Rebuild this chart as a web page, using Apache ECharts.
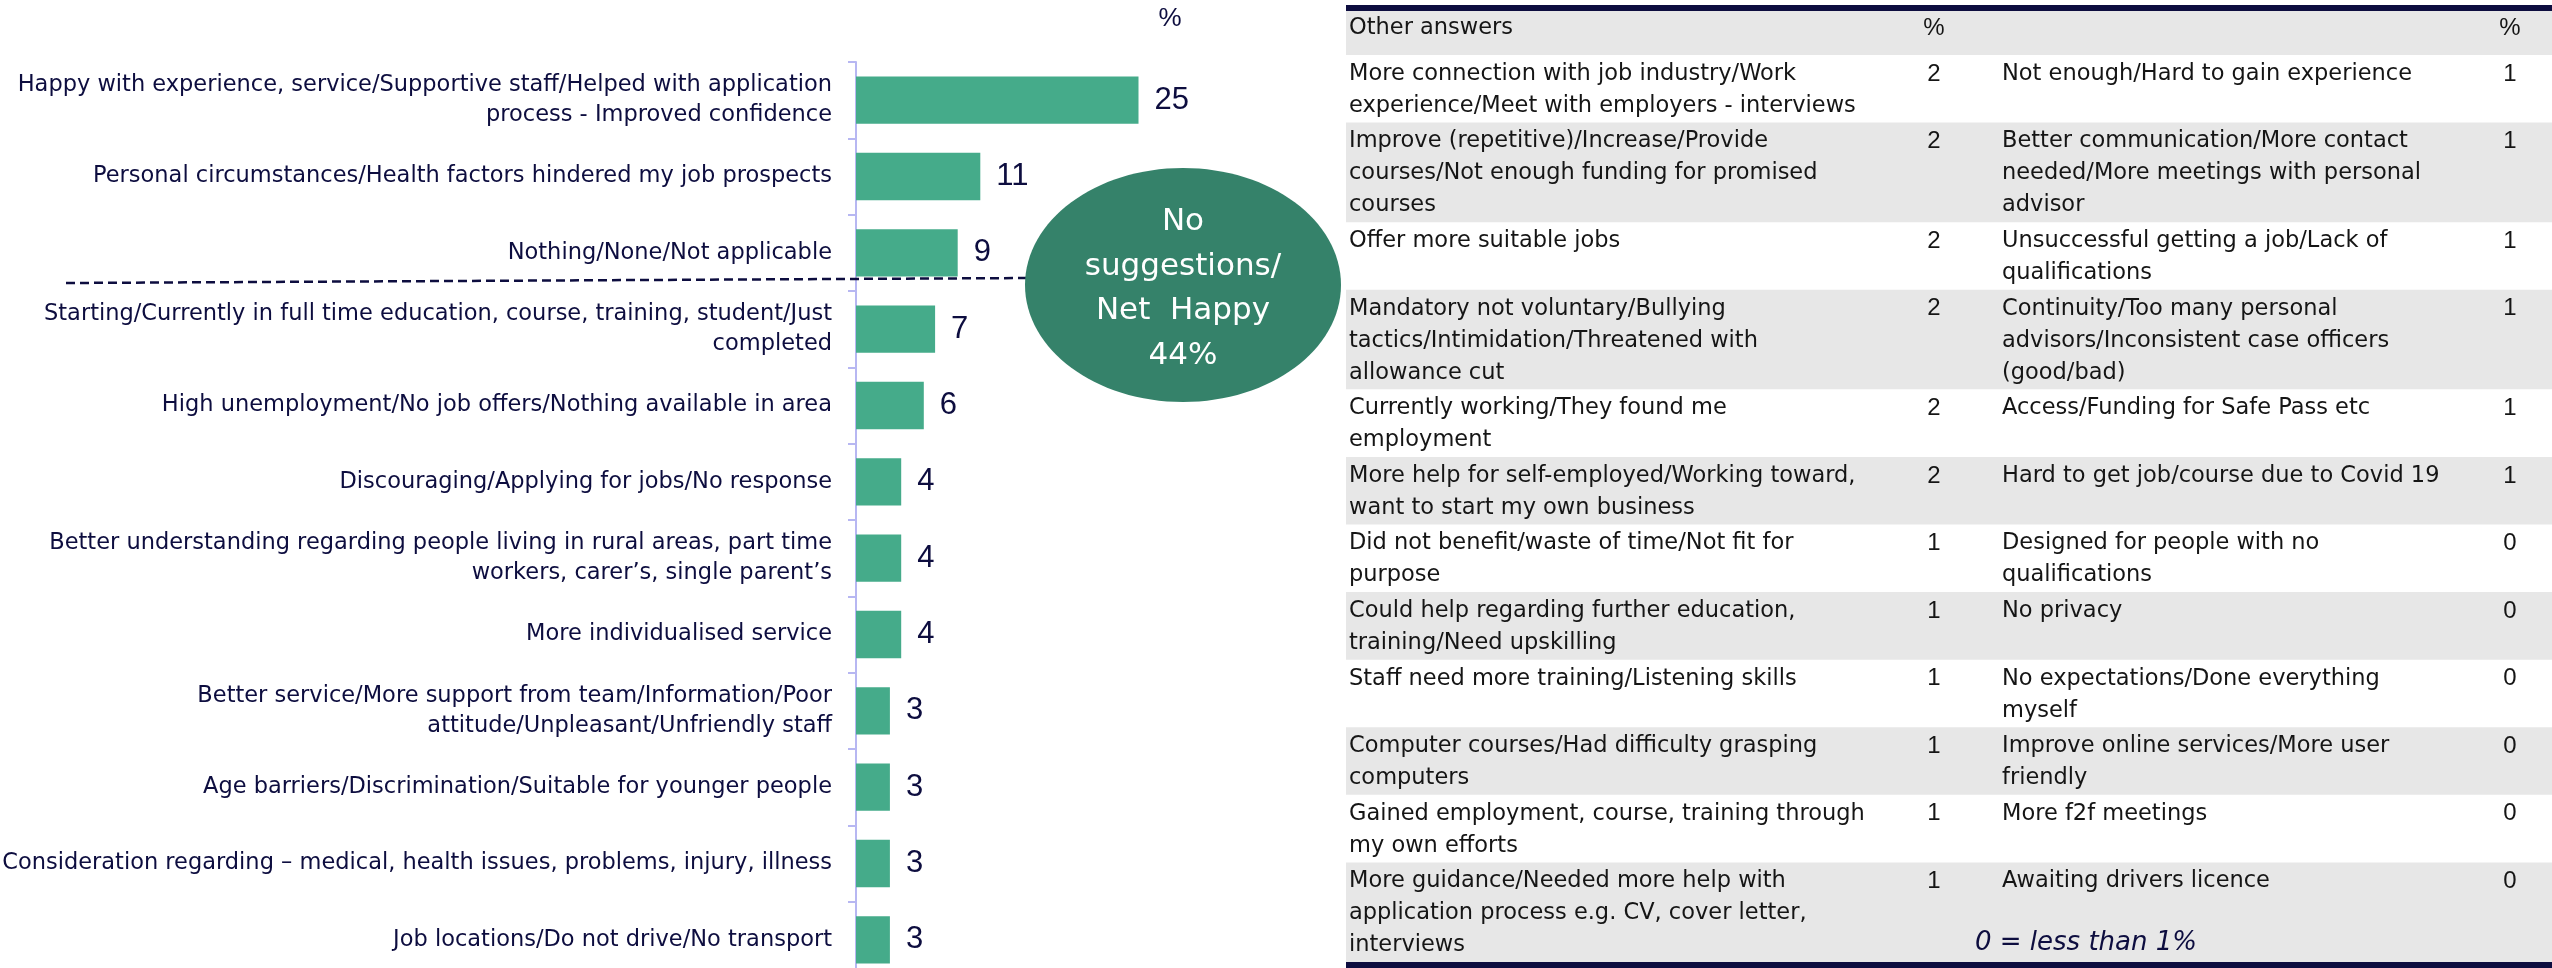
<!DOCTYPE html>
<html>
<head>
<meta charset="utf-8">
<script src="https://cdn.jsdelivr.net/npm/echarts@6/dist/echarts.min.js"></script>
<style>
  html, body { margin: 0; padding: 0; background: #ffffff; }
  #chart { width: 2552px; height: 968px; }
</style>
</head>
<body>
<div id="chart"></div>
<script>
// ---------- DATA ----------
const categories = [
  "Happy with experience, service/Supportive staff/Helped with application\nprocess - Improved confidence",
  "Personal circumstances/Health factors hindered my job prospects",
  "Nothing/None/Not applicable",
  "Starting/Currently in full time education, course, training, student/Just\ncompleted",
  "High unemployment/No job offers/Nothing available in area",
  "Discouraging/Applying for jobs/No response",
  "Better understanding regarding people living in rural areas, part time\nworkers, carer\u2019s, single parent\u2019s",
  "More individualised service",
  "Better service/More support from team/Information/Poor\nattitude/Unpleasant/Unfriendly staff",
  "Age barriers/Discrimination/Suitable for younger people",
  "Consideration regarding \u2013 medical, health issues, problems, injury, illness",
  "Job locations/Do not drive/No transport"
];
const values = [25, 11, 9, 7, 6, 4, 4, 4, 3, 3, 3, 3];

const netHappyLabel = "No\nsuggestions/\nNet  Happy";
const netHappyValue = 44;

const tableHeader = ["Other answers", "%", "", "%"];
const otherAnswersLeft = [
  "More connection with job industry/Work\nexperience/Meet with employers - interviews",
  "Improve (repetitive)/Increase/Provide\ncourses/Not enough funding for promised\ncourses",
  "Offer more suitable jobs",
  "Mandatory not voluntary/Bullying\ntactics/Intimidation/Threatened with\nallowance cut",
  "Currently working/They found me\nemployment",
  "More help for self-employed/Working toward,\nwant to start my own business",
  "Did not benefit/waste of time/Not fit for\npurpose",
  "Could help regarding further education,\ntraining/Need upskilling",
  "Staff need more training/Listening skills",
  "Computer courses/Had difficulty grasping\ncomputers",
  "Gained employment, course, training through\nmy own efforts",
  "More guidance/Needed more help with\napplication process e.g. CV, cover letter,\ninterviews"
];
const otherValuesLeft = [2, 2, 2, 2, 2, 2, 1, 1, 1, 1, 1, 1];
const otherAnswersRight = [
  "Not enough/Hard to gain experience",
  "Better communication/More contact\nneeded/More meetings with personal\nadvisor",
  "Unsuccessful getting a job/Lack of\nqualifications",
  "Continuity/Too many personal\nadvisors/Inconsistent case officers\n(good/bad)",
  "Access/Funding for Safe Pass etc",
  "Hard to get job/course due to Covid 19",
  "Designed for people with no\nqualifications",
  "No privacy",
  "No expectations/Done everything\nmyself",
  "Improve online services/More user\nfriendly",
  "More f2f meetings",
  "Awaiting drivers licence"
];
const otherValuesRight = [1, 1, 1, 1, 1, 1, 0, 0, 0, 0, 0, 0];
const footnote = "0 = less than 1%";

// ---------- STYLE / LAYOUT ----------
const FONT = 'DejaVu Sans';
const NUMFONT = 'Liberation Sans';
const NAVY = '#0d0d3f';
const BAR = '#45ab8a';
const ELLIPSE = '#35826a';
const AXIS = '#b7b7f2';
const GRAY = '#e7e7e7';
const TEXT_DARK = '#151515';

const T = {
  left: 1346, right: 2552, top: 5, border: 6,
  headerH: 44, bottomLine: 962,
  col1: 1349, col2: 1934, col3: 2002, col4: 2510,
  lineH: 32, fontSize: 22.5, numSize: 24
};

function nLines(s) { return s.split('\n').length; }

function buildTable() {
  const els = [];
  const hdrTop = T.top + T.border;
  els.push({ type: 'rect', shape: { x: T.left, y: T.top, width: T.right - T.left, height: T.border }, style: { fill: NAVY }, z: 5 });
  els.push({ type: 'rect', shape: { x: T.left, y: hdrTop, width: T.right - T.left, height: T.headerH }, style: { fill: GRAY }, z: 1 });
  const txt = (x, y, s, align, isNum) => ({
    type: 'text', x: x, y: y, z: 6,
    style: {
      text: s, fill: TEXT_DARK,
      fontFamily: isNum ? NUMFONT : FONT,
      fontSize: isNum ? T.numSize : T.fontSize,
      align: align, verticalAlign: 'top', lineHeight: T.lineH
    }
  });
  els.push(txt(T.col1, hdrTop + 1, tableHeader[0], 'left'));
  els.push(txt(T.col2, hdrTop + 1, tableHeader[1], 'center', true));
  els.push(txt(T.col4, hdrTop + 1, tableHeader[3], 'center', true));

  const bodyTop = hdrTop + T.headerH;
  const lines = otherAnswersLeft.map((s, i) => Math.max(nLines(s), nLines(otherAnswersRight[i])));
  const totalLines = lines.reduce((a, b) => a + b, 0);
  const pad = (T.bottomLine - bodyTop - totalLines * T.lineH) / lines.length;
  let y = bodyTop;
  lines.forEach((ln, i) => {
    const h = ln * T.lineH + pad;
    if (i % 2 === 1) {
      els.push({ type: 'rect', shape: { x: T.left, y: y, width: T.right - T.left, height: h }, style: { fill: GRAY }, z: 1 });
    }
    const ty = y + 3;
    els.push(txt(T.col1, ty, otherAnswersLeft[i], 'left'));
    els.push(txt(T.col2, ty, String(otherValuesLeft[i]), 'center', true));
    els.push(txt(T.col3, ty, otherAnswersRight[i], 'left'));
    els.push(txt(T.col4, ty, String(otherValuesRight[i]), 'center', true));
    y += h;
  });
  els.push({ type: 'rect', shape: { x: T.left, y: T.bottomLine, width: T.right - T.left, height: 968 - T.bottomLine }, style: { fill: NAVY }, z: 5 });
  els.push({
    type: 'text', x: 2086, y: 943, z: 7,
    style: { text: footnote, fill: NAVY, fontFamily: FONT, fontStyle: 'italic', fontSize: 26, align: 'center', verticalAlign: 'middle' }
  });
  return els;
}

const chart = echarts.init(document.getElementById('chart'), null, { renderer: 'canvas' });

const option = {
  backgroundColor: '#ffffff',
  animation: false,
  grid: { left: 856, top: 62, width: 339, height: 916, containLabel: false, outerBoundsMode: 'none' },
  xAxis: {
    type: 'value', min: 0, max: 30,
    show: false, splitLine: { show: false }
  },
  yAxis: {
    type: 'category',
    data: categories,
    inverse: true,
    axisLine: { show: true, lineStyle: { color: AXIS, width: 2 } },
    axisTick: { show: true, length: 8, lineStyle: { color: AXIS, width: 2 } },
    axisLabel: {
      margin: 24, color: NAVY, fontFamily: FONT, fontSize: 22.5,
      lineHeight: 30, align: 'right'
    }
  },
  series: [{
    type: 'bar',
    data: values,
    barCategoryGap: '38%',
    itemStyle: { color: BAR },
    label: {
      show: true, position: 'right', distance: 16,
      color: NAVY, fontFamily: NUMFONT, fontSize: 31
    },
    z: 3
  }],
  graphic: [
    {
      type: 'text', x: 1170, y: 19, z: 5,
      style: { text: '%', fill: NAVY, fontFamily: NUMFONT, fontSize: 26, align: 'center', verticalAlign: 'middle' }
    },
    {
      type: 'line', z: 4,
      shape: { x1: 66, y1: 283, x2: 1030, y2: 278 },
      style: { stroke: NAVY, lineWidth: 2.5, lineDash: [9, 5] }
    },
    {
      type: 'ellipse', z: 10,
      shape: { cx: 1183, cy: 285, rx: 158, ry: 117 },
      style: { fill: ELLIPSE }
    },
    {
      type: 'text', x: 1183, y: 289, z: 11,
      style: {
        text: netHappyLabel + '\n' + netHappyValue + '%',
        fill: '#ffffff', fontFamily: FONT, fontSize: 31, align: 'center', verticalAlign: 'middle', lineHeight: 44.5
      }
    }
  ].concat(buildTable())
};

chart.setOption(option);
</script>
</body>
</html>
